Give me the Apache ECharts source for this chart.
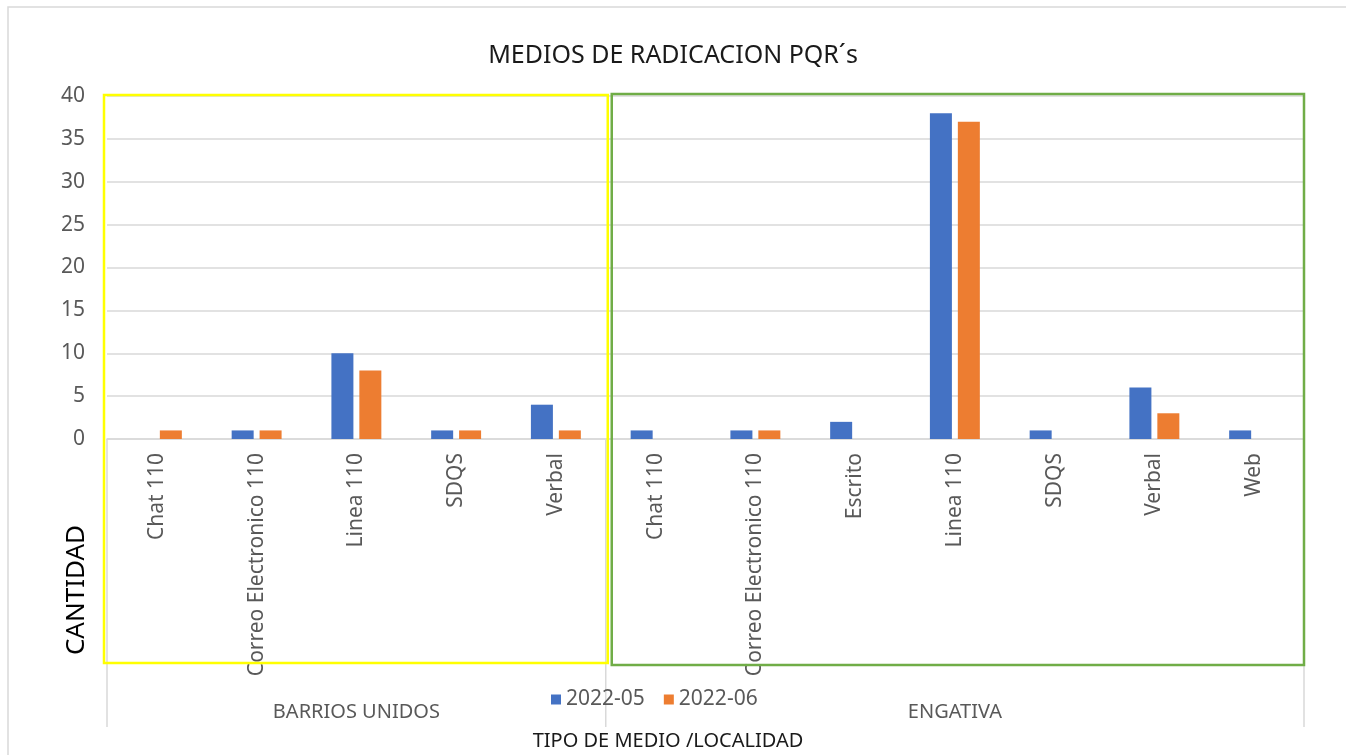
<!DOCTYPE html>
<html>
<head>
<meta charset="utf-8">
<title>MEDIOS DE RADICACION PQR´s</title>
<script src="https://cdn.jsdelivr.net/npm/echarts@6/dist/echarts.min.js"></script>
<style>
  html, body { margin: 0; padding: 0; background: #fff; }
  #main { width: 1346px; height: 755px; }
</style>
</head>
<body>
<div id="main"></div>
<script>
// categorias (tipo de medio) y su localidad
var categorias = ['Chat 110', 'Correo Electronico 110', 'Linea 110', 'SDQS', 'Verbal',
                  'Chat 110', 'Correo Electronico 110', 'Escrito', 'Linea 110', 'SDQS', 'Verbal', 'Web'];
var localidades = ['BARRIOS UNIDOS', 'ENGATIVA'];
var cuantasPorLocalidad = [5, 7];
var serie2022_05 = [0, 1, 10, 1, 4, 1, 1, 2, 38, 1, 6, 1];
var serie2022_06 = [1, 1, 8, 1, 1, 0, 1, 0, 37, 0, 3, 0];
var nombresSeries = ['2022-05', '2022-06'];
var ticksY = [0, 5, 10, 15, 20, 25, 30, 35, 40];

var fuente = '"Noto Sans", "Open Sans", sans-serif';
var gris = '#595959';

// indice central de cada localidad para poner su etiqueta
var centros = {};
var inicio = 0;
cuantasPorLocalidad.forEach(function (n, i) {
  centros[inicio + Math.floor(n / 2)] = localidades[i];
  inicio += n;
});

var myChart = echarts.init(document.getElementById('main'));

var option = {
  backgroundColor: '#fff',
  animation: false,
  textStyle: { fontFamily: fuente },
  title: {
    text: 'MEDIOS DE RADICACION PQR´s',
    left: 'center',
    top: 38,
    textStyle: { fontSize: 25, fontWeight: 'normal', color: '#1a1a1a', fontFamily: fuente }
  },
  legend: {
    data: nombresSeries,
    left: 546,
    top: 684,
    itemWidth: 10,
    itemHeight: 10,
    itemGap: 19,
    icon: 'rect',
    textStyle: { fontSize: 21, color: gris, fontFamily: fuente }
  },
  grid: { left: 107, right: 42, top: 96, bottom: 316, containLabel: false },
  xAxis: [{
    type: 'category',
    data: categorias,
    axisLine: { lineStyle: { color: '#d9d9d9', width: 1.5 } },
    axisTick: { show: false },
    axisLabel: {
      rotate: 90,
      interval: 0,
      margin: 14,
      fontSize: 21,
      color: gris,
      fontFamily: fuente
    }
  }, {
    type: 'category',
    data: categorias,
    position: 'bottom',
    axisLine: { show: false },
    axisTick: { show: false },
    axisLabel: {
      interval: function (idx) { return centros[idx] !== undefined; },
      formatter: function (v, idx) { return centros[idx] || ''; },
      margin: 263,
      fontSize: 20,
      color: gris,
      fontFamily: fuente
    }
  }],
  yAxis: {
    type: 'value',
    min: ticksY[0],
    max: ticksY[ticksY.length - 1],
    interval: ticksY[1] - ticksY[0],
    axisLine: { show: false },
    axisTick: { show: false },
    axisLabel: { fontSize: 21, color: gris, margin: 22, fontFamily: fuente },
    splitLine: { lineStyle: { color: '#d9d9d9', width: 1.5 } }
  },
  series: [{
    name: nombresSeries[0],
    type: 'bar',
    data: serie2022_05,
    barWidth: 22,
    barGap: '27%',
    itemStyle: { color: '#4472C4' }
  }, {
    name: nombresSeries[1],
    type: 'bar',
    data: serie2022_06,
    barWidth: 22,
    barGap: '27%',
    itemStyle: { color: '#ED7D31' }
  }]
};

myChart.setOption(option);

// lineas separadoras, recuadros de color y titulos de ejes (posicion sacada de la escala)
var x0 = myChart.convertToPixel({ xAxisIndex: 0 }, 0);
var x1 = myChart.convertToPixel({ xAxisIndex: 0 }, 1);
var banda = x1 - x0;
var bordeIzq = x0 - banda / 2;
var yCero = myChart.convertToPixel({ yAxisIndex: 0 }, ticksY[0]);
var yTope = myChart.convertToPixel({ yAxisIndex: 0 }, ticksY[ticksY.length - 1]);

var bordes = [bordeIzq];
var acum = 0;
cuantasPorLocalidad.forEach(function (n) {
  acum += n;
  bordes.push(bordeIzq + acum * banda);
});

var graficos = [];
// borde del area del grafico
graficos.push({
  type: 'rect',
  shape: { x: 8, y: 7, width: 1400, height: 800 },
  style: { fill: null, stroke: '#d9d9d9', lineWidth: 1.5 },
  silent: true
});
bordes.forEach(function (bx) {
  graficos.push({
    type: 'line',
    shape: { x1: bx, y1: yCero, x2: bx, y2: yCero + 288 },
    style: { stroke: '#d9d9d9', lineWidth: 1.5 },
    silent: true
  });
});
// recuadro amarillo (Barrios Unidos)
graficos.push({
  type: 'rect',
  shape: { x: bordes[0] - 3, y: yTope - 1, width: bordes[1] - bordes[0] + 5, height: yCero - yTope + 225 },
  style: { fill: null, stroke: '#FFFF00', lineWidth: 2.5 },
  silent: true, z: 10
});
// recuadro verde (Engativa)
graficos.push({
  type: 'rect',
  shape: { x: bordes[1] + 6, y: yTope - 2, width: bordes[2] - bordes[1] - 6, height: yCero - yTope + 228 },
  style: { fill: null, stroke: '#70AD47', lineWidth: 2.5 },
  silent: true, z: 10
});
graficos.push({
  type: 'text',
  x: 77, y: 590,
  rotation: Math.PI / 2,
  style: { text: 'CANTIDAD', fontSize: 26, fill: '#000', fontFamily: fuente, align: 'center', verticalAlign: 'middle' },
  silent: true
});
graficos.push({
  type: 'text',
  x: 668, y: 741,
  style: { text: 'TIPO DE MEDIO /LOCALIDAD', fontSize: 20, fill: '#1a1a1a', fontFamily: fuente, align: 'center', verticalAlign: 'middle' },
  silent: true
});

myChart.setOption({ graphic: graficos });
</script>
</body>
</html>
